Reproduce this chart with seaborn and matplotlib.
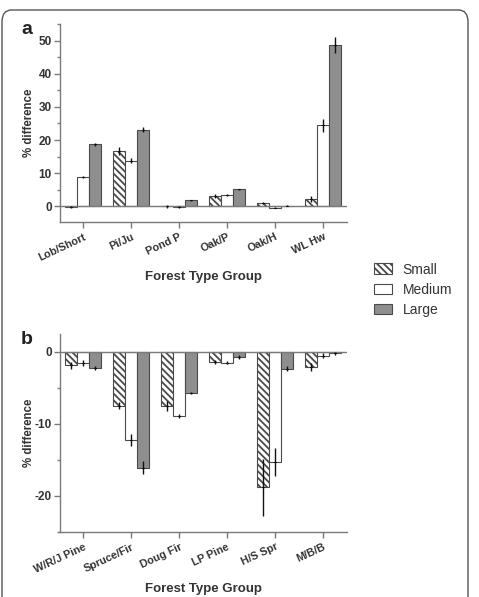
import numpy as np
import pandas as pd
import matplotlib
matplotlib.use("Agg")
import matplotlib.pyplot as plt
from matplotlib.patches import Patch, FancyBboxPatch
from matplotlib.container import BarContainer
from matplotlib.ticker import MultipleLocator
import seaborn as sns

sizes = ["Small", "Medium", "Large"]

groups_a = ["Lob/Short", "Pi/Ju", "Pond P", "Oak/P", "Oak/H", "WL Hw"]
small_a = [-0.1, 16.7, 0.0, 3.2, 1.1, 2.2]
medium_a = [8.9, 13.8, -0.2, 3.4, -0.4, 24.4]
large_a = [18.7, 23.1, 1.8, 5.1, 0.2, 48.8]
small_a_err = [0.3, 1.3, 0.5, 0.6, 0.3, 0.8]
medium_a_err = [0.3, 0.8, 0.4, 0.3, 0.2, 1.9]
large_a_err = [0.5, 0.8, 0.2, 0.3, 0.1, 2.4]

groups_b = ["W/R/J Pine", "Spruce/Fir", "Doug Fir", "LP Pine", "H/S Spr", "M/B/B"]
small_b = [-1.85, -7.45, -7.5, -1.4, -18.8, -2.1]
medium_b = [-1.5, -12.2, -8.85, -1.5, -15.3, -0.5]
large_b = [-2.2, -16.1, -5.7, -0.65, -2.3, -0.15]
small_b_err = [0.5, 0.5, 0.7, 0.3, 4.0, 0.6]
medium_b_err = [0.4, 0.8, 0.3, 0.2, 1.9, 0.3]
large_b_err = [0.3, 0.9, 0.2, 0.3, 0.3, 0.2]

sns.set_theme(style="white")
plt.rcParams["font.family"] = ["Liberation Sans", "DejaVu Sans"]
plt.rcParams["hatch.linewidth"] = 1.3
plt.rcParams["axes.unicode_minus"] = False

fill = {"Small": "white", "Medium": "white", "Large": "#8e8e8e"}
EDGE = "#4a4a4a"
SPINE = "#7a7a7a"
TXT = "#333333"
HATCH = "\\\\\\\\\\"

fig = plt.figure(figsize=(4.79, 5.97), dpi=100)

# rounded frame
frame = FancyBboxPatch((2 / 479, -0.05), 466 / 479, 1 - 10 / 597 + 0.05,
                       boxstyle="round,pad=0,rounding_size=0.02",
                       transform=fig.transFigure, fill=False,
                       edgecolor="#555555", linewidth=1.0)
fig.patches.append(frame)


def panel(rect, groups, vals, errs, ylim, letter):
    ax = fig.add_axes(rect)
    df = pd.DataFrame({
        "group": list(groups) * 3,
        "size": [s for s in sizes for _ in groups],
        "value": vals[0] + vals[1] + vals[2],
    })
    sns.barplot(data=df, x="group", y="value", hue="size", hue_order=sizes,
                order=groups, palette=fill, errorbar=None, width=0.75,
                edgecolor=EDGE, linewidth=0.8, legend=False, ax=ax)
    bars = [c for c in ax.containers if isinstance(c, BarContainer)]
    for ci, cont in enumerate(bars):
        for bi, p in enumerate(cont.patches):
            if sizes[ci] == "Small":
                p.set_hatch(HATCH)
            x = p.get_x() + p.get_width() / 2
            y = vals[ci][bi]
            ax.errorbar(x, y, yerr=errs[ci][bi], color="#111111",
                        elinewidth=1.0, capsize=0, fmt="none", zorder=5)
            ax.plot([x - 0.03, x + 0.03], [y, y], color="#111111", lw=0.8, zorder=5)
    ax.axhline(0, color=SPINE, lw=1.0, zorder=1)
    ax.set_xlim(-0.48, 5.5)
    ax.set_ylim(*ylim)
    ax.yaxis.set_major_locator(MultipleLocator(10))
    ax.yaxis.set_minor_locator(MultipleLocator(5))
    sns.despine(ax=ax)
    for s in ("left", "bottom"):
        ax.spines[s].set_color(SPINE)
        ax.spines[s].set_linewidth(1.0)
    ax.tick_params(axis="both", which="both", direction="out", color=SPINE,
                   left=True, bottom=True, width=1.0)
    ax.tick_params(axis="y", which="major", length=4, pad=2, labelsize=8.5, labelcolor=TXT)
    ax.tick_params(axis="y", which="minor", length=2.5)
    ax.tick_params(axis="x", length=4, pad=3, labelsize=7.8, labelcolor=TXT)
    for t in ax.get_yticklabels():
        t.set_fontweight("bold")
    ax.set_xticks(range(len(groups)))
    ax.set_xticklabels(groups, rotation=25, ha="right", rotation_mode="anchor",
                       fontweight="bold")
    ax.set_xlabel("Forest Type Group", fontsize=9.5, fontweight="bold", color=TXT, labelpad=6)
    ax.set_ylabel("% difference", fontsize=8.3, fontweight="bold", color=TXT)
    ax.yaxis.set_label_coords(-25 / 287, 0.5)
    ax.grid(False)
    fig.text(27 / 479, rect[1] + rect[3] - 5 / 597, letter, fontsize=14,
             fontweight="bold", color="#222222", ha="center", va="center")
    return ax


ax_a = panel([60 / 479, 1 - 222 / 597, 287 / 479, 198 / 597], groups_a,
             [small_a, medium_a, large_a], [small_a_err, medium_a_err, large_a_err],
             (-4.7, 55), "a")
ax_b = panel([60 / 479, 1 - 532 / 597, 287 / 479, 198 / 597], groups_b,
             [small_b, medium_b, large_b], [small_b_err, medium_b_err, large_b_err],
             (-25, 2.5), "b")

handles = [Patch(facecolor=fill[s], edgecolor=EDGE, linewidth=0.8,
                 hatch=HATCH if s == "Small" else None, label=s) for s in sizes]
fig.legend(handles=handles, loc="upper left", bbox_to_anchor=(361 / 479, 1 - 250 / 597),
           frameon=False, fontsize=10, handlelength=1.3, handleheight=0.8,
           labelspacing=0.45, handletextpad=0.8, labelcolor=TXT)

fig.savefig("out.png", dpi=100)
